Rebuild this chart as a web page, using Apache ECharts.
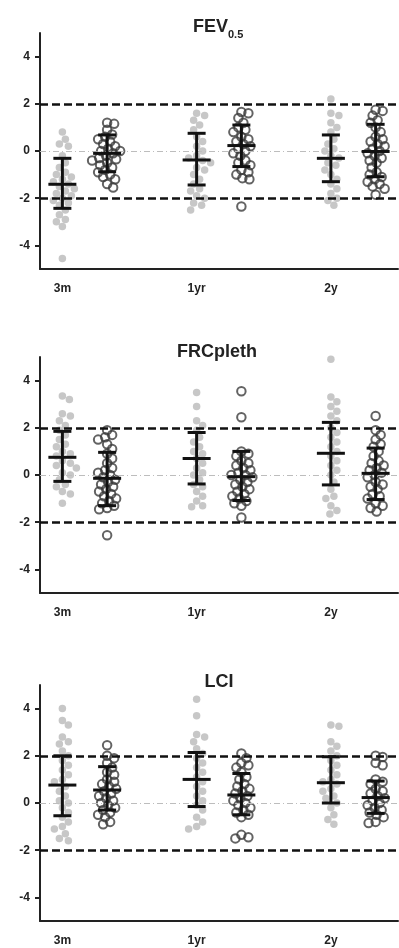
<!DOCTYPE html>
<html>
<head>
<meta charset="utf-8">
<script src="https://cdn.jsdelivr.net/npm/echarts@6/dist/echarts.min.js"></script>
<style>
html,body{margin:0;padding:0;background:#fff;}
#chart{width:399px;height:948px;}
</style>
</head>
<body>
<div id="chart"></div>
<script>
// ---- data ----
const categories = ['3m', '1yr', '2y'];
const yTicks = [-4, -2, 0, 2, 4];
const refLines = [-2, 2];

// FEV0.5 individual z-scores (gray filled = group A, open = group B), per time point
const fevA_3m  = [0.8, 0.5, 0.3, 0.2, -0.2, -0.5, -0.7, -0.9, -1.0, -1.1, -1.2, -1.3, -1.4, -1.5, -1.6, -1.7, -1.8, -1.9, -2.0, -2.1, -2.2, -2.3, -2.5, -2.7, -2.9, -3.0, -3.2, -4.55];
const fevB_3m  = [1.2, 1.15, 0.9, 0.7, 0.6, 0.5, 0.4, 0.3, 0.2, 0.1, 0.0, 0.0, -0.1, -0.2, -0.3, -0.35, -0.4, -0.5, -0.6, -0.7, -0.8, -0.9, -1.0, -1.1, -1.2, -1.4, -1.55];
const fevA_1yr = [1.6, 1.5, 1.3, 1.1, 0.9, 0.6, 0.4, 0.2, 0.0, -0.2, -0.3, -0.4, -0.5, -0.7, -0.8, -1.0, -1.2, -1.4, -1.6, -1.7, -1.9, -2.0, -2.2, -2.3, -2.5];
const fevB_1yr = [1.65, 1.6, 1.4, 1.2, 1.0, 0.9, 0.8, 0.6, 0.5, 0.4, 0.3, 0.2, 0.1, 0.0, -0.1, -0.2, -0.4, -0.5, -0.6, -0.8, -0.9, -1.0, -1.15, -1.2, -2.35];
const fevA_2y  = [2.2, 1.6, 1.5, 1.2, 1.0, 0.8, 0.5, 0.3, 0.1, 0.0, -0.2, -0.3, -0.5, -0.6, -0.8, -1.0, -1.2, -1.4, -1.6, -1.8, -2.0, -2.1, -2.3];
const fevB_2y  = [1.75, 1.7, 1.5, 1.3, 1.2, 1.0, 0.8, 0.6, 0.5, 0.4, 0.3, 0.2, 0.1, 0.0, -0.1, -0.2, -0.3, -0.4, -0.5, -0.7, -0.9, -1.0, -1.1, -1.2, -1.3, -1.4, -1.5, -1.6, -1.85];
const fevMean = [-1.41, -0.10, -0.38, 0.23, -0.31, -0.02];
const fevLow  = [-2.43, -0.88, -1.44, -0.66, -1.30, -1.09];
const fevHigh = [-0.31, 0.68, 0.75, 1.10, 0.68, 1.13];

// FRCpleth
const frcA_3m  = [3.35, 3.2, 2.6, 2.5, 2.3, 2.1, 1.9, 1.7, 1.5, 1.3, 1.2, 1.0, 0.9, 0.8, 0.6, 0.5, 0.4, 0.3, 0.1, 0.0, -0.2, -0.4, -0.5, -0.7, -0.8, -1.2];
const frcB_3m  = [1.9, 1.7, 1.6, 1.5, 1.3, 1.1, 0.9, 0.7, 0.5, 0.3, 0.2, 0.1, 0.0, -0.1, -0.2, -0.3, -0.4, -0.5, -0.6, -0.7, -0.8, -0.9, -1.0, -1.1, -1.2, -1.3, -1.4, -1.45, -2.55];
const frcA_1yr = [3.5, 2.9, 2.3, 2.1, 1.9, 1.6, 1.4, 1.2, 1.0, 0.9, 0.7, 0.5, 0.3, 0.1, 0.0, -0.2, -0.4, -0.5, -0.7, -0.9, -1.1, -1.3, -1.35];
const frcB_1yr = [3.55, 2.45, 1.0, 0.9, 0.8, 0.6, 0.5, 0.4, 0.3, 0.2, 0.1, 0.0, 0.0, -0.1, -0.2, -0.3, -0.4, -0.5, -0.6, -0.7, -0.8, -0.9, -1.0, -1.1, -1.2, -1.3, -1.8];
const frcA_2y  = [4.9, 3.3, 3.1, 2.9, 2.7, 2.5, 2.3, 2.0, 1.8, 1.6, 1.4, 1.2, 1.0, 0.8, 0.6, 0.4, 0.2, 0.0, -0.3, -0.6, -0.9, -1.0, -1.3, -1.5, -1.65];
const frcB_2y  = [2.5, 1.9, 1.7, 1.5, 1.3, 1.2, 1.0, 0.8, 0.6, 0.5, 0.4, 0.3, 0.2, 0.1, 0.0, -0.1, -0.3, -0.4, -0.5, -0.6, -0.8, -0.9, -1.0, -1.2, -1.3, -1.4, -1.55];
const frcMean = [0.75, -0.14, 0.70, -0.07, 0.92, 0.07];
const frcLow  = [-0.27, -1.30, -0.38, -1.08, -0.42, -1.04];
const frcHigh = [1.85, 0.96, 1.80, 1.00, 2.23, 1.14];

// LCI
const lciA_3m  = [4.0, 3.5, 3.3, 2.8, 2.6, 2.5, 2.2, 2.0, 1.8, 1.6, 1.4, 1.2, 1.0, 0.9, 0.7, 0.5, 0.3, 0.1, 0.0, -0.2, -0.4, -0.6, -0.8, -1.0, -1.1, -1.3, -1.5, -1.6];
const lciB_3m  = [2.45, 2.0, 1.9, 1.7, 1.5, 1.3, 1.2, 1.0, 0.9, 0.8, 0.7, 0.6, 0.5, 0.4, 0.3, 0.2, 0.1, 0.0, -0.1, -0.2, -0.3, -0.4, -0.5, -0.6, -0.8, -0.9];
const lciA_1yr = [4.4, 3.7, 2.9, 2.8, 2.6, 2.3, 2.1, 1.9, 1.7, 1.5, 1.3, 1.1, 0.9, 0.7, 0.5, 0.3, 0.1, -0.1, -0.3, -0.6, -0.8, -1.0, -1.1];
const lciB_1yr = [2.1, 1.9, 1.7, 1.6, 1.5, 1.3, 1.1, 1.0, 0.8, 0.7, 0.6, 0.5, 0.4, 0.3, 0.2, 0.1, 0.0, -0.1, -0.2, -0.3, -0.4, -0.5, -0.6, -1.35, -1.45, -1.5];
const lciA_2y  = [3.3, 3.25, 2.6, 2.4, 2.2, 2.0, 1.8, 1.6, 1.4, 1.2, 1.0, 0.9, 0.8, 0.6, 0.5, 0.3, 0.2, 0.0, -0.2, -0.5, -0.7, -0.9];
const lciB_2y  = [2.0, 1.95, 1.7, 1.6, 1.0, 0.9, 0.8, 0.6, 0.5, 0.4, 0.3, 0.2, 0.1, 0.0, -0.1, -0.2, -0.3, -0.4, -0.5, -0.6, -0.8, -0.85];
const lciMean = [0.76, 0.55, 1.00, 0.34, 0.86, 0.23];
const lciLow  = [-0.54, -0.30, -0.15, -0.50, 0.00, -0.44];
const lciHigh = [2.00, 1.54, 2.14, 1.25, 1.96, 0.93];

// ---- layout ----
const panels = [
  { top: 33,  groups: [fevA_3m, fevB_3m, fevA_1yr, fevB_1yr, fevA_2y, fevB_2y], mean: fevMean, low: fevLow, high: fevHigh },
  { top: 357, groups: [frcA_3m, frcB_3m, frcA_1yr, frcB_1yr, frcA_2y, frcB_2y], mean: frcMean, low: frcLow, high: frcHigh },
  { top: 685, groups: [lciA_3m, lciB_3m, lciA_1yr, lciB_1yr, lciA_2y, lciB_2y], mean: lciMean, low: lciLow, high: lciHigh }
];
const groupX = [0, 1, 3, 4, 6, 7];
const GRID_LEFT = 40, GRID_W = 358, GRID_H = 236;
const PX_X = GRID_W / 8, PX_Y = GRID_H / 10;

// beeswarm placement (layout only): horizontal offsets so markers do not overlap
function swarm(values, center, diam) {
  const sorted = values.slice().sort((a, b) => b - a);
  const placed = [];
  const out = [];
  sorted.forEach(v => {
    const py = v * PX_Y;
    let off = 0;
    for (let k = 0; k < 80; k++) {
      const cand = (k === 0) ? 0 : ((k % 2 === 1) ? 1 : -1) * Math.ceil(k / 2);
      let ok = true;
      for (const p of placed) {
        const dx = p[0] - cand, dy = p[1] - py;
        if (dx * dx + dy * dy < diam * diam) { ok = false; break; }
      }
      if (ok) { off = cand; break; }
    }
    placed.push([off, py]);
    out.push([center + off / PX_X, v]);
  });
  return out;
}

const font = 'Liberation Sans, Arial, sans-serif';
const grids = [], xAxes = [], yAxes = [], series = [];
panels.forEach((p, i) => {
  grids.push({ left: GRID_LEFT, top: p.top, width: GRID_W, height: GRID_H });
  xAxes.push({
    gridIndex: i, type: 'value', min: -0.5, max: 7.5,
    axisLine: { show: true, onZero: false, lineStyle: { color: '#222', width: 2 } },
    axisTick: { show: false },
    splitLine: { show: false },
    axisLabel: {
      customValues: [0, 3, 6],
      formatter: v => categories[Math.round(v / 3)] || '',
      color: '#222', fontSize: 12, fontWeight: 'bold', fontFamily: font, margin: 14
    }
  });
  yAxes.push({
    gridIndex: i, type: 'value', min: -5, max: 5,
    axisLine: { show: true, onZero: false, lineStyle: { color: '#222', width: 2 } },
    axisTick: { show: true, customValues: yTicks, length: 5, lineStyle: { color: '#222', width: 2 } },
    splitLine: { show: false },
    axisLabel: { customValues: yTicks, color: '#222', fontSize: 12, fontWeight: 'bold', fontFamily: font, margin: 10 }
  });
  p.groups.forEach((vals, g) => {
    const isA = g % 2 === 0;
    series.push({
      type: 'scatter', xAxisIndex: i, yAxisIndex: i,
      data: swarm(vals, groupX[g], isA ? 7.5 : 6.5),
      symbol: 'circle',
      symbolSize: isA ? 7.5 : 8.5,
      itemStyle: isA
        ? { color: '#b9b9b9' }
        : { color: 'rgba(255,255,255,0)', borderColor: '#3c3c3c', borderWidth: 2 },
      z: isA ? 2 : 3, silent: true
    });
  });
  // reference lines
  series.push({
    type: 'line', xAxisIndex: i, yAxisIndex: i, data: [], silent: true,
    markLine: {
      silent: true, symbol: 'none', label: { show: false },
      data: [
        { yAxis: refLines[0], lineStyle: { color: '#111', width: 2.5, type: [8, 4] } },
        { yAxis: refLines[1], lineStyle: { color: '#111', width: 2.5, type: [8, 4] } },
        { yAxis: 0, lineStyle: { color: '#bdbdbd', width: 1, type: [6, 3, 1, 3] } }
      ]
    },
    z: 4
  });
  // mean ± SD
  series.push({
    type: 'custom', xAxisIndex: i, yAxisIndex: i, silent: true, z: 5,
    data: groupX.map((x, g) => [x, p.mean[g], p.low[g], p.high[g]]),
    renderItem: (params, api) => {
      const x = api.value(0);
      const pm = api.coord([x, api.value(1)]);
      const pl = api.coord([x, api.value(2)]);
      const ph = api.coord([x, api.value(3)]);
      const st = { stroke: '#111', lineWidth: 3, fill: null };
      const hw = 14, cw = 9;
      return {
        type: 'group', children: [
          { type: 'line', shape: { x1: pl[0], y1: pl[1], x2: ph[0], y2: ph[1] }, style: st },
          { type: 'line', shape: { x1: pm[0] - hw, y1: pm[1], x2: pm[0] + hw, y2: pm[1] }, style: st },
          { type: 'line', shape: { x1: pl[0] - cw, y1: pl[1], x2: pl[0] + cw, y2: pl[1] }, style: st },
          { type: 'line', shape: { x1: ph[0] - cw, y1: ph[1], x2: ph[0] + cw, y2: ph[1] }, style: st }
        ]
      };
    }
  });
});

const chart = echarts.init(document.getElementById('chart'), null, { renderer: 'canvas' });
chart.setOption({
  backgroundColor: '#fff',
  animation: false,
  grid: grids,
  xAxis: xAxes,
  yAxis: yAxes,
  series: series,
  graphic: [
    { type: 'text', x: 228, y: 27, style: { text: 'FEV', fontSize: 18, fontWeight: 'bold', fontFamily: font, fill: '#222', align: 'right', verticalAlign: 'middle' } },
    { type: 'text', x: 228, y: 35, style: { text: '0.5', fontSize: 11, fontWeight: 'bold', fontFamily: font, fill: '#222', align: 'left', verticalAlign: 'middle' } },
    { type: 'text', x: 217, y: 352, style: { text: 'FRCpleth', fontSize: 18, fontWeight: 'bold', fontFamily: font, fill: '#222', align: 'center', verticalAlign: 'middle' } },
    { type: 'text', x: 219, y: 682, style: { text: 'LCI', fontSize: 18, fontWeight: 'bold', fontFamily: font, fill: '#222', align: 'center', verticalAlign: 'middle' } }
  ]
});
</script>
</body>
</html>
